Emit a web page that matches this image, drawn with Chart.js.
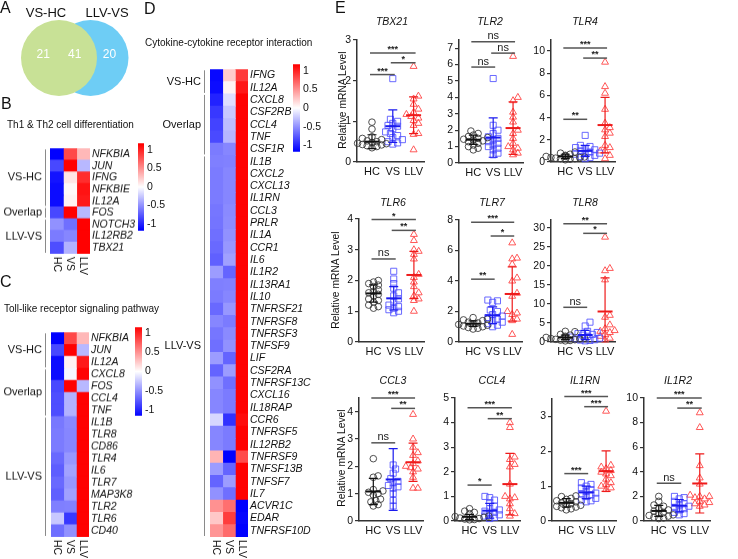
<!DOCTYPE html>
<html><head><meta charset="utf-8">
<script src="https://cdn.jsdelivr.net/npm/chart.js@4.4.1/dist/chart.umd.min.js"></script>
<style>
html,body{margin:0;padding:0;background:#fff;}
#root{position:relative;width:738px;height:559px;overflow:hidden;font-family:"Liberation Sans",Arial,sans-serif;color:#111;background:#fff;}
.t{position:absolute;white-space:nowrap;line-height:1;}
canvas{position:absolute;}
</style></head><body><div id="root"></div>
<script>
// ---------------- DATA ----------------
const vennSets = ['VS-HC', 'LLV-VS'];
const vennCounts = [21, 41, 20];

const heatColumns = ['HC', 'VS', 'LLV'];
const colorbarTicks = [-1, -0.5, 0, 0.5, 1];

// B: Th1 & Th2 cell differentiation
const thGenes = ['NFKBIA','JUN','IFNG','NFKBIE','IL12A','FOS','NOTCH3','IL12RB2','TBX21'];
const thHC  = [-1.15,-0.83,-1.07,-1.10,-1.10,-0.83,-0.50,-0.60,-0.80];
const thVS  = [ 0.83, 1.15, 0.12, 0.03, 0.06, 1.15,-0.65,-0.55,-0.35];
const thLLV = [ 0.32,-0.32, 0.95, 1.07, 1.04,-0.32, 1.15, 1.15, 1.15];
const thGroups = [['VS-HC',0,4],['Overlap',5,5],['LLV-VS',6,8]];

// C: Toll-like receptor signaling pathway
const tlrGenes = ['NFKBIA','JUN','IL12A','CXCL8','FOS','CCL4','TNF','IL1B','TLR8','CD86','TLR4','IL6','TLR7','MAP3K8','TLR2','TLR6','CD40'];
const tlrHC  = [-1.15,-0.83,-1.10,-1.10,-0.83,-0.80,-0.80,-0.61,-0.60,-0.60,-0.68,-0.73,-0.68,-0.72,-0.58,-0.25,-0.65];
const tlrVS  = [ 0.83, 1.15, 0.06,-0.04, 1.15,-0.35,-0.35,-0.54,-0.55,-0.55,-0.47,-0.42,-0.47,-0.43,-0.57,-0.90,-0.50];
const tlrLLV = [ 0.32,-0.32, 1.04, 1.14,-0.32, 1.15, 1.15, 1.15, 1.15, 1.15, 1.15, 1.15, 1.15, 1.15, 1.15, 1.15, 1.15];
const tlrGroups = [['VS-HC',0,2],['Overlap',3,6],['LLV-VS',7,16]];

// D: Cytokine-cytokine receptor interaction
const ccrGenes = ['IFNG','IL12A','CXCL8','CSF2RB','CCL4','TNF','CSF1R','IL1B','CXCL2','CXCL13','IL1RN','CCL3','PRLR','IL1A','CCR1','IL6','IL1R2','IL13RA1','IL10','TNFRSF21','TNFRSF8','TNFRSF3','TNFSF9','LIF','CSF2RA','TNFRSF13C','CXCL16','IL18RAP','CCR6','TNFRSF5','IL12RB2','TNFRSF9','TNFSF13B','TNFSF7','IL7','ACVR1C','EDAR','TNFRSF10D'];
const ccrHC  = [-1.12,-1.10,-1.00,-0.90,-0.85,-0.82,-0.60,-0.58,-0.60,-0.60,-0.60,-0.62,-0.63,-0.65,-0.68,-0.72,-0.45,-0.58,-0.60,-0.68,-0.55,-0.62,-0.65,-0.45,-0.70,-0.50,-0.55,-0.55,-0.18,-0.55,-0.55, 0.34,-0.45,-0.70,-0.50, 0.50, 0.25, 0.48];
const ccrVS  = [ 0.23, 0.05,-0.15,-0.25,-0.30,-0.33,-0.55,-0.57,-0.55,-0.55,-0.55,-0.53,-0.52,-0.50,-0.47,-0.43,-0.70,-0.57,-0.55,-0.47,-0.60,-0.53,-0.50,-0.70,-0.45,-0.65,-0.60,-0.60,-0.93,-0.60,-0.60,-1.15,-0.70,-0.45,-0.65, 0.65, 0.88, 0.67];
const ccrLLV = [ 0.89, 1.05, 1.15, 1.15, 1.15, 1.15, 1.15, 1.15, 1.15, 1.15, 1.15, 1.15, 1.15, 1.15, 1.15, 1.15, 1.15, 1.15, 1.15, 1.15, 1.15, 1.15, 1.15, 1.15, 1.15, 1.15, 1.15, 1.15, 1.10, 1.15, 1.15, 0.81, 1.15, 1.15, 1.15,-1.15,-1.13,-1.15];
const ccrGroups = [['VS-HC',0,1],['Overlap',2,6],['LLV-VS',7,37]];

// E: relative mRNA levels (HC, VS, LLV), mean, SD, significance [from, to, height, label]
const TBX21_HC  = [0.98,0.81,0.62,0.58,0.55,0.52,0.5,0.48,0.46,0.45,0.43,0.42,0.4,0.38,0.35];
const TBX21_VS  = [2.05,1.05,1.0,0.95,0.9,0.88,0.82,0.74,0.7,0.65,0.6,0.55,0.5,0.47,0.44];
const TBX21_LLV = [2.35,1.62,1.55,1.42,1.3,1.22,1.17,1.12,1.08,1.02,0.95,0.9,0.7,0.68,0.3];
const TBX21_mean = [0.5,0.88,1.15];
const TBX21_sd   = [0.17,0.4,0.45];
const TBX21_sig  = [[0,2,2.68,'***'],[1,2,2.44,'*'],[0,1,2.15,'***']];

const TLR2_HC  = [1.95,1.8,1.7,1.62,1.55,1.5,1.45,1.4,1.35,1.3,1.2,1.1,1.0,0.9,0.8];
const TLR2_VS  = [5.15,2.3,2.0,1.8,1.6,1.5,1.4,1.3,1.2,1.1,1.0,0.9,0.8,0.6,0.5];
const TLR2_LLV = [6.5,4.0,3.8,3.1,2.8,2.5,2.0,1.8,1.5,1.2,1.0,0.9,0.8,0.6,0.5];
const TLR2_mean = [1.42,1.55,2.13];
const TLR2_sd   = [0.28,1.2,1.6];
const TLR2_sig  = [[0,2,7.4,'ns'],[1,2,6.7,'ns'],[0,1,5.85,'ns']];

const TLR4_HC  = [0.9,0.8,0.7,0.6,0.55,0.5,0.5,0.45,0.4,0.4,0.35,0.3,0.3,0.25,0.2];
const TLR4_VS  = [2.4,1.5,1.4,1.3,1.2,1.1,1.0,0.9,0.8,0.75,0.7,0.6,0.5,0.4,0.3];
const TLR4_LLV = [9.0,6.8,6.2,4.75,3.5,3.1,2.9,2.6,2.3,1.5,1.3,1.0,1.0,0.6,0.3];
const TLR4_mean = [0.5,1.0,3.33];
const TLR4_sd   = [0.2,0.5,2.5];
const TLR4_sig  = [[0,2,10.27,'***'],[1,2,9.37,'**'],[0,1,3.85,'**']];

const TLR6_HC  = [2.0,1.95,1.9,1.85,1.8,1.7,1.65,1.6,1.55,1.5,1.4,1.35,1.3,1.2,1.15,1.1];
const TLR6_VS  = [2.3,2.05,1.9,1.75,1.6,1.5,1.4,1.3,1.2,1.15,1.1,1.05,1.0,0.95];
const TLR6_LLV = [3.5,3.3,3.0,2.95,2.85,2.7,2.2,2.1,1.95,1.8,1.6,1.5,1.4,1.35,1.0];
const TLR6_mean = [1.58,1.42,2.18];
const TLR6_sd   = [0.28,0.38,0.77];
const TLR6_sig  = [[0,2,3.98,'*'],[1,2,3.63,'**'],[0,1,2.7,'ns']];

const TLR7_HC  = [1.6,1.5,1.45,1.4,1.3,1.25,1.2,1.15,1.1,1.05,1.0,0.95,0.9,0.85];
const TLR7_VS  = [2.75,2.7,2.6,2.1,2.0,1.8,1.7,1.6,1.5,1.4,1.3,1.2,1.1,1.0];
const TLR7_LLV = [6.5,5.5,5.45,5.1,4.2,4.0,3.2,3.0,2.0,1.9,1.8,1.5,1.4,0.5];
const TLR7_mean = [1.2,1.75,3.15];
const TLR7_sd   = [0.18,0.55,1.78];
const TLR7_sig  = [[0,2,7.85,'***'],[1,2,6.95,'*'],[0,1,4.12,'**']];

const TLR8_HC  = [2.8,2.7,2.0,1.8,1.5,1.3,1.2,1.0,0.9,0.8,0.7,0.6,0.5,0.4,0.3];
const TLR8_VS  = [5.2,4.2,2.8,2.5,2.2,2.0,1.8,1.5,1.3,1.0,0.8,0.6,0.5,0.4,0.3];
const TLR8_LLV = [27.5,19.3,18.7,16.3,7.0,6.5,4.5,3.5,3.0,2.8,2.5,2.0,1.5,1.0,0.5];
const TLR8_mean = [1.2,1.83,8.0];
const TLR8_sd   = [0.6,1.2,8.8];
const TLR8_sig  = [[0,2,31.0,'**'],[1,2,28.5,'*'],[0,1,9.1,'ns']];

const CCL3_HC  = [2.28,1.65,1.6,1.15,1.1,1.05,1.0,0.95,0.8,0.75,0.7,0.6,0.55];
const CCL3_VS  = [2.05,1.9,1.75,1.55,1.45,1.4,1.3,1.25,1.2,1.0,0.75,0.55];
const CCL3_LLV = [3.9,3.0,2.7,2.5,2.4,2.2,2.1,2.0,1.95,1.9,1.8,1.6,1.2,1.2];
const CCL3_mean = [1.08,1.52,2.15];
const CCL3_sd   = [0.48,1.13,0.7];
const CCL3_sig  = [[0,2,4.5,'***'],[1,2,4.12,'**'],[0,1,2.86,'ns']];

const CCL4_HC  = [0.5,0.4,0.35,0.3,0.2,0.18,0.15,0.12,0.1,0.08,0.06,0.05];
const CCL4_VS  = [1.0,0.95,0.85,0.75,0.6,0.5,0.45,0.4,0.35,0.3,0.25,0.2,0.15,0.1];
const CCL4_LLV = [4.0,3.8,2.6,2.5,2.3,2.2,1.5,1.0,0.95,0.9,0.7,0.5,0.3,0.2];
const CCL4_mean = [0.17,0.42,1.5];
const CCL4_sd   = [0.1,0.3,1.25];
const CCL4_sig  = [[0,2,4.6,'***'],[1,2,4.16,'**'],[0,1,1.46,'*']];

const IL1RN_HC  = [0.72,0.7,0.65,0.62,0.58,0.55,0.52,0.5,0.48,0.45,0.42,0.4,0.38,0.35,0.32];
const IL1RN_VS  = [1.1,1.05,1.0,0.95,0.9,0.85,0.8,0.78,0.75,0.7,0.65,0.6,0.58,0.55];
const IL1RN_LLV = [3.15,1.6,1.55,1.5,1.45,1.4,1.35,1.3,1.2,1.1,1.05,1.0,0.95,0.9];
const IL1RN_mean = [0.52,0.82,1.43];
const IL1RN_sd   = [0.12,0.18,0.58];
const IL1RN_sig  = [[0,2,3.57,'***'],[1,2,3.28,'***'],[0,1,1.36,'***']];

const IL1R2_HC  = [2.0,1.6,1.3,1.2,1.0,0.9,0.8,0.7,0.6,0.5,0.45,0.4,0.3,0.25,0.2];
const IL1R2_VS  = [2.0,1.9,1.8,1.6,1.4,1.3,1.2,1.1,1.0,0.9,0.7,0.6,0.5];
const IL1R2_LLV = [8.8,7.6,4.5,3.5,3.0,2.1,2.0,2.0,1.9,1.8,1.6,1.5,1.4,1.3,1.2];
const IL1R2_mean = [0.82,1.25,3.05];
const IL1R2_sd   = [0.45,0.5,2.4];
const IL1R2_sig  = [[0,2,10.0,'***'],[1,2,9.18,'**'],[0,1,3.07,'ns']];

// ---------------- HELPERS ----------------
const FONT = '"Liberation Sans", Arial, sans-serif';
Chart.defaults.font.family = FONT;
Chart.defaults.color = '#111';
const root = document.getElementById('root');

function txt(s, x, cy, o = {}) {
  const d = document.createElement('div');
  d.className = 't';
  d.textContent = s;
  const size = o.size || 10;
  d.style.fontSize = size + 'px';
  if (o.italic) d.style.fontStyle = 'italic';
  if (o.color) d.style.color = o.color;
  d.style.top = (cy - size / 2) + 'px';
  if (o.rotate) {
    d.style.left = x + 'px';
    d.style.top = cy + 'px';
    d.style.transform = 'translate(-50%,-50%) rotate(-90deg)';
  } else if (o.align === 'center') {
    d.style.left = x + 'px';
    d.style.transform = 'translateX(-50%)';
  } else {
    d.style.left = x + 'px';
  }
  root.appendChild(d);
}

function mkCanvas(left, top, w, h) {
  const c = document.createElement('canvas');
  c.width = w; c.height = h;
  c.style.left = left + 'px'; c.style.top = top + 'px';
  c.style.width = w + 'px'; c.style.height = h + 'px';
  root.appendChild(c);
  return c;
}

function heatColor(v) {
  const t = Math.min(1, Math.abs(v) / 1.155);
  const c = Math.round(255 * (1 - t));
  return v >= 0 ? `rgb(255,${c},${c})` : `rgb(${c},${c},255)`;
}

// ---------------- VENN (A) ----------------
(function () {
  const cx0 = 59, unit = 31.5, W = 140, H = 100, top = 8;
  const cv = mkCanvas(0, top, W, H);
  const colors = ['rgb(200,225,150)', 'rgba(32,178,240,0.65)'];
  const labelPos = [-0.5, 0.5, 1.6];
  new Chart(cv, {
    type: 'bubble',
    data: { datasets: vennSets.map((s, i) => ({ label: s, data: [{ x: i, y: 0, r: 38 }], backgroundColor: colors[i], borderWidth: 0, hoverRadius: 0, clip: false })) },
    options: {
      responsive: false, animation: false, devicePixelRatio: 1,
      layout: { padding: 0, autoPadding: false },
      plugins: { legend: { display: false }, tooltip: { enabled: false } },
      scales: {
        x: { display: false, min: -cx0 / unit, max: (W - cx0) / unit },
        y: { display: false, min: -1, max: 1 }
      }
    },
    plugins: [{
      id: 'vennNums',
      afterDatasetsDraw(chart) {
        const ctx = chart.ctx, xs = chart.scales.x, ys = chart.scales.y;
        ctx.save();
        ctx.fillStyle = '#fff';
        ctx.font = '12px ' + FONT;
        ctx.textAlign = 'center'; ctx.textBaseline = 'middle';
        vennCounts.forEach((n, i) => ctx.fillText(String(n), xs.getPixelForValue(labelPos[i]), ys.getPixelForValue(0) - 3));
        ctx.restore();
      }
    }]
  });
  txt(vennSets[0], 46, 12, { size: 13, align: 'center' });
  txt(vennSets[1], 107, 12, { size: 13, align: 'center' });
})();

// ---------------- HEATMAPS ----------------
function makeHeat(c) {
  const padL = c.padL, padT = 2, padB = 28;
  const W = padL + (c.right - c.left) + c.axisW;
  const H = padT + (c.bottom - c.top) + padB;
  const cv = mkCanvas(c.left - padL, c.top - padT, W, H);
  new Chart(cv, {
    type: 'bar',
    data: {
      labels: c.genes,
      datasets: c.cols.map((vals, k) => ({
        label: heatColumns[k], data: vals.map(() => 1),
        backgroundColor: vals.map(heatColor), borderWidth: 0,
        barPercentage: 1, categoryPercentage: 1, inflateAmount: 0.4
      }))
    },
    options: {
      indexAxis: 'y', responsive: false, animation: false, devicePixelRatio: 1,
      layout: { padding: { left: padL, top: padT, bottom: padB, right: 0 }, autoPadding: false },
      plugins: { legend: { display: false }, tooltip: { enabled: false } },
      scales: {
        x: { stacked: true, display: false, min: 0, max: 3 },
        y: {
          stacked: true, position: 'right',
          grid: { display: false, drawTicks: false }, border: { display: false },
          ticks: { font: { size: 10.5, style: 'italic' }, color: '#111', padding: 2, autoSkip: false },
          afterFit: s => { s.width = c.axisW; }
        }
      }
    },
    plugins: [{
      id: 'heatDeco',
      afterDraw(chart) {
        const ctx = chart.ctx, ys = chart.scales.y, xs = chart.scales.x, a = chart.chartArea;
        const half = (ys.getPixelForValue(1) - ys.getPixelForValue(0)) / 2;
        const lx = a.left - c.lineGap;
        ctx.save();
        ctx.strokeStyle = '#8a8a8a'; ctx.lineWidth = 1;
        ctx.fillStyle = '#111';
        ctx.font = '11px ' + FONT;
        ctx.textAlign = 'right'; ctx.textBaseline = 'middle';
        c.groups.forEach(([lab, s, e]) => {
          const y1 = ys.getPixelForValue(s) - half + 1, y2 = ys.getPixelForValue(e) + half - 1;
          ctx.beginPath(); ctx.moveTo(lx + 0.5, y1); ctx.lineTo(lx + 0.5, y2); ctx.stroke();
          ctx.fillText(lab, lx - 3, (y1 + y2) / 2);
        });
        ctx.font = '10.5px ' + FONT;
        ctx.textAlign = 'left';
        heatColumns.forEach((lab, k) => {
          ctx.save();
          ctx.translate(xs.getPixelForValue(k + 0.5), a.bottom + 3);
          ctx.rotate(Math.PI / 2);
          ctx.fillText(lab, 0, 0);
          ctx.restore();
        });
        ctx.restore();
      }
    }]
  });
}

function makeColorbar(left, top, bottom, width, range, labelW) {
  const pad = 8;
  const cv = mkCanvas(left, top - pad, width + labelW, bottom - top + 2 * pad);
  new Chart(cv, {
    type: 'bar',
    data: {
      labels: [''],
      datasets: [{
        data: [[-range, range]], borderWidth: 0, barPercentage: 1, categoryPercentage: 1,
        backgroundColor: (ctx) => {
          const ch = ctx.chart; if (!ch.chartArea) return '#fff';
          const ys = ch.scales.y;
          const g = ch.ctx.createLinearGradient(0, ys.getPixelForValue(1.155), 0, ys.getPixelForValue(-1.155));
          g.addColorStop(0, 'rgb(255,0,0)'); g.addColorStop(0.5, 'rgb(255,255,255)'); g.addColorStop(1, 'rgb(0,0,255)');
          return g;
        }
      }]
    },
    options: {
      responsive: false, animation: false, devicePixelRatio: 1,
      layout: { padding: { top: pad, bottom: pad, left: 0, right: 0 }, autoPadding: false },
      plugins: { legend: { display: false }, tooltip: { enabled: false } },
      scales: {
        x: { display: false },
        y: {
          position: 'right', min: -range, max: range,
          afterBuildTicks: s => { s.ticks = colorbarTicks.map(v => ({ value: v })); },
          ticks: { font: { size: 10.5 }, color: '#111', padding: 3, callback: v => String(v) },
          grid: { display: false, drawTicks: false }, border: { display: false },
          afterFit: s => { s.width = labelW; }
        }
      }
    }
  });
}

// A letter
txt('A', 0, 8, { size: 16 });

// B
txt('B', 1, 104, { size: 16 });
txt('Th1 & Th2 cell differentiation', 7, 125, { size: 10 });
makeHeat({ genes: thGenes, cols: [thHC, thVS, thLLV], groups: thGroups, left: 50, right: 90, top: 142, bottom: 253.6, axisW: 60, padL: 50, lineGap: 5 });
makeColorbar(138, 142, 232, 6, 1.18, 26);

// C
txt('C', 0, 282, { size: 16 });
txt('Toll-like receptor signaling pathway', 4, 309, { size: 10 });
makeHeat({ genes: tlrGenes, cols: [tlrHC, tlrVS, tlrLLV], groups: tlrGroups, left: 51, right: 89, top: 326, bottom: 536.8, axisW: 60, padL: 51, lineGap: 6 });
makeColorbar(135, 326, 417, 7, 1.14, 26);

// D
txt('D', 144, 9, { size: 16 });
txt('Cytokine-cytokine receptor interaction', 145, 43, { size: 10 });
makeHeat({ genes: ccrGenes, cols: [ccrHC, ccrVS, ccrLLV], groups: ccrGroups, left: 210, right: 248, top: 63, bottom: 537, axisW: 80, padL: 50, lineGap: 6 });
makeColorbar(293, 63, 153, 7, 1.17, 26);

// ---------------- DOT PLOTS (E) ----------------
txt('E', 335, 8, { size: 16 });

function swarm(yp, diam, step) {
  const idx = yp.map((v, i) => i).sort((a, b) => yp[b] - yp[a]);
  const placed = [], off = new Array(yp.length).fill(0);
  const cands = [0];
  for (let j = 1; j < 10; j++) cands.push(j * step, -j * step);
  for (const i of idx) {
    for (const dx of cands) {
      if (placed.every(p => Math.hypot(p.x - dx, p.y - yp[i]) >= diam)) { off[i] = dx; break; }
    }
    placed.push({ x: off[i], y: yp[i] });
  }
  return off;
}

const ptStyles = [
  { style: 'circle', r: 3.3, color: 'rgba(60,60,60,0.9)' },
  { style: 'rect', r: 4.3, color: 'rgba(80,80,255,0.85)' },
  { style: 'triangle', r: 4.0, color: 'rgba(255,70,70,0.9)' }
];
const meanColors = ['#111111', '#1a1aee', '#ee1a1a'];

function makeDot(c) {
  const axisW = 24, padL = 2, padT = 30, padR = 8, xAxisH = 20, padB = 2;
  const plotH = c.zero - c.top;
  const W = padL + axisW + (c.x1 - c.x0) + padR;
  const H = padT + plotH + xAxisH + padB;
  const cv = mkCanvas(c.x0 - axisW - padL, c.top - padT, W, H);
  const chart = new Chart(cv, {
    type: 'scatter',
    data: {
      datasets: c.groups.map((vals, g) => ({
        label: heatColumns[g],
        data: vals.map(v => ({ x: g, y: v })),
        pointStyle: ptStyles[g].style, pointRadius: ptStyles[g].r,
        pointBorderColor: ptStyles[g].color, pointBackgroundColor: 'rgba(0,0,0,0)',
        pointBorderWidth: 1, clip: false
      }))
    },
    options: {
      responsive: false, animation: false, devicePixelRatio: 1,
      layout: { padding: { left: padL, top: padT, right: padR, bottom: padB }, autoPadding: false },
      plugins: { legend: { display: false }, tooltip: { enabled: false } },
      scales: {
        x: {
          type: 'linear', min: -0.72, max: 2.5,
          afterBuildTicks: s => { s.ticks = [0, 1, 2].map(v => ({ value: v })); },
          ticks: { callback: v => heatColumns[v], font: { size: 11 }, color: '#111', padding: 3, maxRotation: 0, autoSkip: false },
          grid: { display: false, drawTicks: false },
          border: { display: true, color: '#333', width: 1.5 },
          afterFit: s => { s.height = xAxisH; }
        },
        y: {
          min: 0, max: c.max,
          ticks: { stepSize: c.step, includeBounds: false, font: { size: 10.5 }, color: '#111', padding: 2 },
          grid: { display: true, drawOnChartArea: false, drawTicks: true, tickLength: 4, color: '#333', lineWidth: 1.2 },
          border: { display: true, color: '#333', width: 1.5 },
          afterFit: s => { s.width = axisW; }
        }
      }
    },
    plugins: [{
      id: 'meanSd',
      afterDatasetsDraw(chart) {
        const ctx = chart.ctx, xs = chart.scales.x, ys = chart.scales.y;
        ctx.save();
        c.mean.forEach((m, g) => {
          const x = xs.getPixelForValue(g);
          const yt = ys.getPixelForValue(m + c.sd[g]);
          const yb = Math.min(ys.getPixelForValue(Math.max(0, m - c.sd[g])), ys.bottom);
          const ym = ys.getPixelForValue(m);
          ctx.strokeStyle = meanColors[g];
          ctx.lineWidth = 1.2;
          ctx.beginPath();
          ctx.moveTo(x, yt); ctx.lineTo(x, yb);
          ctx.moveTo(x - 4.5, yt); ctx.lineTo(x + 4.5, yt);
          if (m - c.sd[g] > 0) { ctx.moveTo(x - 4.5, yb); ctx.lineTo(x + 4.5, yb); }
          ctx.stroke();
          ctx.lineWidth = 2;
          ctx.beginPath(); ctx.moveTo(x - 7.5, ym); ctx.lineTo(x + 7.5, ym); ctx.stroke();
        });
        ctx.restore();
      },
      afterDraw(chart) {
        const ctx = chart.ctx, xs = chart.scales.x, ys = chart.scales.y;
        ctx.save();
        ctx.strokeStyle = '#555'; ctx.fillStyle = '#222'; ctx.lineWidth = 1.5;
        ctx.textAlign = 'center';
        c.sig.forEach(([a, b, h, lab]) => {
          const x1 = xs.getPixelForValue(a) - 2, x2 = xs.getPixelForValue(b) + 2, y = ys.getPixelForValue(h);
          ctx.beginPath(); ctx.moveTo(x1, y); ctx.lineTo(x2, y); ctx.stroke();
          if (lab === 'ns') { ctx.font = '11px ' + FONT; ctx.textBaseline = 'alphabetic'; ctx.fillText(lab, (x1 + x2) / 2, y - 2.5); }
          else { ctx.font = 'bold 9px ' + FONT; ctx.textBaseline = 'alphabetic'; ctx.fillText(lab, (x1 + x2) / 2, y - 1); }
        });
        ctx.restore();
      }
    }]
  });
  // spread overlapping points horizontally (beeswarm), in pixel space
  const xs = chart.scales.x, ys = chart.scales.y;
  const pxX = xs.getPixelForValue(1) - xs.getPixelForValue(0);
  chart.data.datasets.forEach((ds, g) => {
    const vals = c.groups[g];
    const off = swarm(vals.map(v => ys.getPixelForValue(v)), 4.6, 2.4);
    ds.data = vals.map((v, i) => ({ x: g + off[i] / pxX, y: v }));
  });
  chart.update('none');
  txt(c.name, c.tx, c.ty, { size: 10.5, italic: true, align: 'center' });
  if (c.ylab) txt('Relative mRNA Level', c.ylab[0], c.ylab[1], { size: 10.3, rotate: true });
}

makeDot({ name: 'TBX21', tx: 392, ty: 21, x0: 357, x1: 424, top: 40, zero: 162, max: 3, step: 1,
  groups: [TBX21_HC, TBX21_VS, TBX21_LLV], mean: TBX21_mean, sd: TBX21_sd, sig: TBX21_sig, ylab: [343, 100] });
makeDot({ name: 'TLR2', tx: 490, ty: 21, x0: 459, x1: 523, top: 39.8, zero: 163, max: 7.5, step: 1,
  groups: [TLR2_HC, TLR2_VS, TLR2_LLV], mean: TLR2_mean, sd: TLR2_sd, sig: TLR2_sig });
makeDot({ name: 'TLR4', tx: 585, ty: 21, x0: 551, x1: 615, top: 40, zero: 162, max: 11, step: 2,
  groups: [TLR4_HC, TLR4_VS, TLR4_LLV], mean: TLR4_mean, sd: TLR4_sd, sig: TLR4_sig });

makeDot({ name: 'TLR6', tx: 393, ty: 202, x0: 359, x1: 424, top: 219, zero: 342, max: 4, step: 1,
  groups: [TLR6_HC, TLR6_VS, TLR6_LLV], mean: TLR6_mean, sd: TLR6_sd, sig: TLR6_sig, ylab: [336, 280] });
makeDot({ name: 'TLR7', tx: 492, ty: 202, x0: 459, x1: 522, top: 220, zero: 342, max: 8, step: 2,
  groups: [TLR7_HC, TLR7_VS, TLR7_LLV], mean: TLR7_mean, sd: TLR7_sd, sig: TLR7_sig });
makeDot({ name: 'TLR8', tx: 585, ty: 202, x0: 551, x1: 615, top: 219.5, zero: 342, max: 32, step: 5,
  groups: [TLR8_HC, TLR8_VS, TLR8_LLV], mean: TLR8_mean, sd: TLR8_sd, sig: TLR8_sig });

makeDot({ name: 'CCL3', tx: 393, ty: 380, x0: 359, x1: 423, top: 398, zero: 521, max: 4.5, step: 1,
  groups: [CCL3_HC, CCL3_VS, CCL3_LLV], mean: CCL3_mean, sd: CCL3_sd, sig: CCL3_sig, ylab: [342, 458] });
makeDot({ name: 'CCL4', tx: 492, ty: 380, x0: 455, x1: 520, top: 398, zero: 521, max: 5, step: 1,
  groups: [CCL4_HC, CCL4_VS, CCL4_LLV], mean: CCL4_mean, sd: CCL4_sd, sig: CCL4_sig });
makeDot({ name: 'IL1RN', tx: 585, ty: 380, x0: 552, x1: 616, top: 398.5, zero: 521, max: 3.5, step: 1,
  groups: [IL1RN_HC, IL1RN_VS, IL1RN_LLV], mean: IL1RN_mean, sd: IL1RN_sd, sig: IL1RN_sig });
makeDot({ name: 'IL1R2', tx: 678, ty: 380, x0: 644, x1: 710, top: 398, zero: 521, max: 10, step: 2,
  groups: [IL1R2_HC, IL1R2_VS, IL1R2_LLV], mean: IL1R2_mean, sd: IL1R2_sd, sig: IL1R2_sig });
</script>
</body></html>
